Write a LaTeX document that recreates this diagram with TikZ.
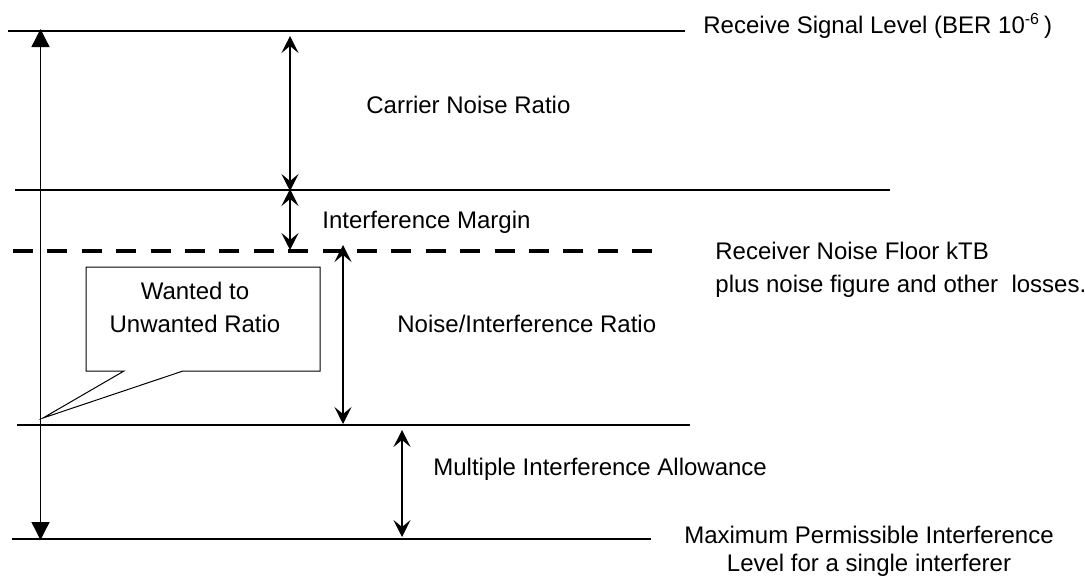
\documentclass[tikz,border=0pt]{standalone}
\usepackage{fontspec}
\setmainfont{Liberation Sans}
\usetikzlibrary{arrows.meta}
\begin{document}
\begin{tikzpicture}[x=0.5pt,y=-0.5pt,
        levelline/.style={draw,line width=0.65pt},
        gaparrow/.style={draw,line width=0.65pt,{Stealth[length=8.5pt,width=8.5pt,inset=3.5pt]}-{Stealth[length=8.5pt,width=8.5pt,inset=3.5pt]}},
        caption/.style={inner sep=0pt,font=\fontsize{12}{15.5}\selectfont}]
            \useasboundingbox (0,0) rectangle (1085,578);

            \path[levelline] (8,31) -- (685,31);
            \path[levelline] (15,190) -- (890,190);
            \path[draw,line width=2pt,dash pattern=on 10pt off 7.2pt] (13,251) -- (652,251);
            \path[levelline] (17,425) -- (690,425);
            \path[levelline] (12,539) -- (651,539);

            \coordinate (totTop) at (40.5,29);
            \coordinate (totBot) at (40.5,540);
            \coordinate (cnrTop) at (290,36);
            \coordinate (cnrBot) at (290,191);
            \coordinate (imTop) at (290,189);
            \coordinate (imBot) at (290,250);
            \coordinate (nirTop) at (343,245);
            \coordinate (nirBot) at (343,424);
            \coordinate (miaTop) at (402,430);
            \coordinate (miaBot) at (402,537);

            \path[draw,line width=0.65pt,{Triangle[length=9pt,width=9pt]}-{Triangle[length=9pt,width=9pt]}] (totTop) -- (totBot);
            \path[gaparrow] (cnrTop) -- (cnrBot);
            \path[gaparrow] (imTop) -- (imBot);
            \path[gaparrow] (nirTop) -- (nirBot);
            \path[gaparrow] (miaTop) -- (miaBot);

            \path[draw,line width=0.5pt] (86,267) -- (320,267) -- (320,371) -- (183,371) -- (43,418) -- (124,371) -- (86,371) -- cycle;

            \node[caption,anchor=base west] (rsl) at (703,33) {Receive Signal Level (BER 10\textsuperscript{-6}\,)};
            \node[caption,anchor=base west] (cnr) at (366,113) {Carrier Noise Ratio};
            \node[caption,anchor=base west] (im) at (322,228) {Interference Margin};
            \node[caption,anchor=west,align=left,font=\fontsize{12}{16.5}\selectfont] (nfl) at (715,270) {Receiver Noise Floor kTB\\plus noise figure and other\ \ losses.};
            \node[caption,align=center,font=\fontsize{12}{16.5}\selectfont] (wtu) at (195,307) {Wanted to\\Unwanted Ratio};
            \node[caption,anchor=base west] (nir) at (397,332) {Noise/Interference Ratio};
            \node[caption,anchor=base west] (mia) at (433,475) {Multiple Interference Allowance};
            \node[caption,align=center,font=\fontsize{12}{14}\selectfont] (mpi) at (869,551) {Maximum Permissible Interference\\Level for a single interferer};
        \end{tikzpicture}
\end{document}
